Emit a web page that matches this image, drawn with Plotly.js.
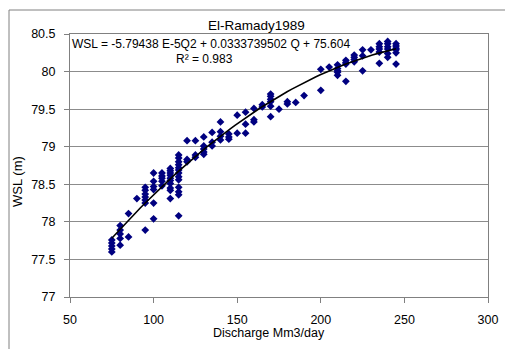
<!DOCTYPE html>
<html>
<head>
<meta charset="utf-8">
<script src="https://cdn.plot.ly/plotly-3.0.1.min.js"></script>
<style>
  html, body { margin: 0; padding: 0; background: #ffffff; }
  #chart { width: 505px; height: 349px; }
</style>
</head>
<body>
<div id="chart"></div>
<script>
// Discharge (Mm3/day) and water surface level (m) observations, El-Ramady 1989
const discharge = [
  75, 75, 75, 75, 75,
  80, 80, 80, 80, 80,
  85, 85,
  90,
  95, 95, 95, 95, 95, 95, 95,
  100, 100, 100, 100, 100, 100,
  105, 105, 105, 105, 105,
  110, 110, 110, 110, 110, 110, 110, 110, 110, 110,
  115, 115, 115, 115, 115, 115, 115, 115, 115, 115, 115, 115, 115,
  120, 120, 120,
  125, 125, 125,
  130, 130, 130, 130, 130,
  135, 135, 135,
  140, 140, 140, 140,
  145, 145, 145,
  150, 150,
  155, 155, 155,
  160, 160, 160,
  165, 165,
  170, 170, 170, 170, 170, 170,
  175,
  180, 180,
  185,
  190,
  200, 200,
  205,
  210, 210, 210, 210, 210,
  215, 215, 215, 215,
  220, 220, 220, 220,
  225, 225, 225,
  230,
  235, 235, 235, 235, 235,
  240, 240, 240, 240, 240, 240,
  245, 245, 245, 245, 245, 245
];
const wsl = [
  77.76, 77.72, 77.68, 77.64, 77.60,
  77.95, 77.89, 77.84, 77.78, 77.69,
  78.11, 77.80,
  78.31,
  78.46, 78.42, 78.37, 78.33, 78.29, 78.25, 77.89,
  78.65, 78.54, 78.47, 78.43, 78.25, 78.04,
  78.65, 78.61, 78.58, 78.54, 78.48,
  78.71, 78.68, 78.65, 78.62, 78.58, 78.55, 78.51, 78.45, 78.42, 78.31,
  78.89, 78.85, 78.80, 78.76, 78.72, 78.69, 78.65, 78.60, 78.56, 78.46, 78.40, 78.36, 78.08,
  79.08, 78.83, 78.80,
  79.08, 78.89, 78.86,
  79.13, 79.01, 78.97, 78.93, 78.90,
  79.19, 79.06, 79.01,
  79.33, 79.20, 79.14, 79.09,
  79.17, 79.13, 79.10,
  79.42, 79.18,
  79.46, 79.30, 79.18,
  79.51, 79.36, 79.33,
  79.56, 79.53,
  79.70, 79.67, 79.63, 79.60, 79.54, 79.40,
  79.50,
  79.60, 79.57,
  79.59,
  79.68,
  80.03, 79.75,
  80.06,
  80.09, 80.04, 80.01, 79.99, 79.95,
  80.15, 80.12, 80.10, 79.87,
  80.22, 80.19, 80.16, 80.13,
  80.29, 80.21, 80.01,
  80.29,
  80.37, 80.33, 80.30, 80.26, 80.11,
  80.40, 80.37, 80.33, 80.30, 80.24, 80.19,
  80.37, 80.34, 80.31, 80.29, 80.25, 80.10
];

// Polynomial trendline coefficients as printed on the chart
const coefA = -5.79438e-5;
const coefB = 0.0333739502;
const coefC = 75.604;
const trendQ = [];
const trendWSL = [];
const qMin = Math.min(...discharge), qMax = Math.max(...discharge);
for (let i = 0; i <= 60; i++) {
  const q = qMin + (qMax - qMin) * i / 60;
  trendQ.push(q);
  trendWSL.push(coefA * q * q + coefB * q + coefC);
}

const xTicks = [50, 100, 150, 200, 250, 300];
const yTicks = [77, 77.5, 78, 78.5, 79, 79.5, 80, 80.5];

const font = "Liberation Sans, Arial, sans-serif";

const traces = [
  {
    x: discharge, y: wsl, type: "scatter", mode: "markers",
    marker: { symbol: "diamond", size: 6, color: "#000080", line: { width: 0 } },
    hoverinfo: "skip"
  },
  {
    x: trendQ, y: trendWSL, type: "scatter", mode: "lines",
    line: { color: "#000000", width: 1.6 },
    hoverinfo: "skip"
  }
];

const layout = {
  width: 505, height: 349,
  margin: { l: 70, r: 17, t: 34, b: 52 },
  paper_bgcolor: "#ffffff",
  plot_bgcolor: "#ffffff",
  showlegend: false,
  font: { family: font, size: 12, color: "#000000" },
  xaxis: {
    range: [50, 300], tickvals: xTicks, ticktext: xTicks.map(String),
    showgrid: false, zeroline: false,
    showline: true, linecolor: "#808080", linewidth: 1, mirror: true,
    ticks: "outside", ticklen: 5, tickcolor: "#808080",
    tickfont: { family: font, size: 12.5, color: "#000000" },
    ticklabelstandoff: 6
  },
  yaxis: {
    range: [77, 80.5], tickvals: yTicks, ticktext: yTicks.map(String),
    showgrid: true, gridcolor: "#8c8c8c", gridwidth: 1, zeroline: false,
    showline: true, linecolor: "#808080", linewidth: 1, mirror: true,
    ticks: "outside", ticklen: 5, tickcolor: "#808080",
    tickfont: { family: font, size: 12.5, color: "#000000" },
    ticklabelstandoff: 6
  },
  shapes: [
    {
      type: "rect", xref: "paper", yref: "paper",
      x0: (9 - 70) / 418, x1: (507 - 70) / 418,
      y0: (297 - 352) / 263, y1: (297 - 10) / 263,
      line: { color: "#808080", width: 1 }, fillcolor: "rgba(0,0,0,0)", layer: "below"
    }
  ],
  annotations: [
    {
      text: "El-Ramady1989", xref: "paper", yref: "paper",
      x: (256 - 70) / 418, y: (297 - 26) / 263, xanchor: "center", yanchor: "middle",
      showarrow: false, font: { family: font, size: 13.5, color: "#000000" }
    },
    {
      text: "WSL = -5.79438 E-5Q2 + 0.0333739502 Q + 75.604", xref: "paper", yref: "paper",
      x: (70 - 70) / 418, y: (297 - 44) / 263, xanchor: "left", yanchor: "middle",
      showarrow: false, font: { family: font, size: 12, color: "#000000" }
    },
    {
      text: "R² = 0.983", xref: "paper", yref: "paper",
      x: (204 - 70) / 418, y: (297 - 59) / 263, xanchor: "center", yanchor: "middle",
      showarrow: false, font: { family: font, size: 12, color: "#000000" }
    },
    {
      text: "Discharge Mm3/day", xref: "paper", yref: "paper",
      x: (269 - 70) / 418, y: (297 - 333) / 263, xanchor: "center", yanchor: "middle",
      showarrow: false, font: { family: font, size: 12.5, color: "#000000" }
    },
    {
      text: "WSL (m)", xref: "paper", yref: "paper", textangle: -90,
      x: (18 - 70) / 418, y: (297 - 182) / 263, xanchor: "center", yanchor: "middle",
      showarrow: false, font: { family: font, size: 13, color: "#000000" }
    }
  ]
};

Plotly.newPlot("chart", traces, layout, { staticPlot: true, displayModeBar: false });
</script>
</body>
</html>
